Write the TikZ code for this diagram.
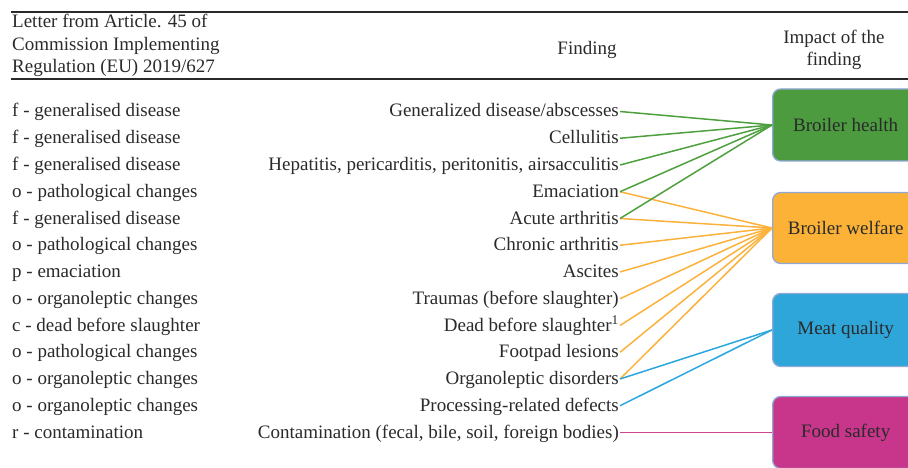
\documentclass[tikz,border=0pt]{standalone}
\usepackage{fontspec}
\setmainfont{Liberation Serif}
\definecolor{textgray}{HTML}{2A2A2A}
\definecolor{boxgreen}{HTML}{4C9B3F}
\definecolor{boxorange}{HTML}{FBB236}
\definecolor{boxblue}{HTML}{2EA6DA}
\definecolor{boxpink}{HTML}{C7368A}
\definecolor{boxedge}{HTML}{8FA8D6}
\definecolor{lgreen}{HTML}{4EA03F}
\definecolor{lorange}{HTML}{FBB23C}
\definecolor{lblue}{HTML}{2BA6DE}
\definecolor{lpink}{HTML}{D14590}
\begin{document}
\begin{tikzpicture}[x=1pt,y=-1pt,
  txt/.style={inner sep=0pt, font=\fontsize{19}{22}\selectfont, text=textgray},
  impact/.style={txt, draw=boxedge, line width=1.3pt, rounded corners=8pt, minimum width=146pt, minimum height=72pt, anchor=west},
  conn/.style={line width=1.5pt},
  rulethick/.style={line width=1.8pt, draw=textgray}]
\clip (0,0) rectangle (908,468);
\useasboundingbox (0,0) rectangle (908,468);
% rules
\coordinate (r1a) at (11,12); \coordinate (r1b) at (910,12);
\coordinate (r2a) at (11,79); \coordinate (r2b) at (910,79);
\draw[rulethick] (r1a) -- (r1b);
\draw[rulethick, line width=1.5pt] (r2a) -- (r2b);
% header
\node[txt, anchor=base west] (h1) at (12,28) {Letter from Article. 45 of};
\node[txt, anchor=base west] (h2) at (12,51) {Commission Implementing};
\node[txt, anchor=base west] (h3) at (12,73) {Regulation (EU) 2019/627};
\node[txt, anchor=base] (hf) at (587,55) {Finding};
\node[txt, anchor=base] (hi1) at (834,44) {Impact of the};
\node[txt, anchor=base] (hi2) at (834,66) {finding};
% left column
\foreach \i/\t in {1/{f - generalised disease},2/{f - generalised disease},3/{f - generalised disease},
  4/{o - pathological changes},5/{f - generalised disease},6/{o - pathological changes},
  7/{p - emaciation},8/{o - organoleptic changes},9/{c - dead before slaughter},
  10/{o - pathological changes},11/{o - organoleptic changes},12/{o - organoleptic changes},
  13/{r - contamination}}
  \node[txt, anchor=base west] (L\i) at (12,{117+26.75*(\i-1)}) {\t};
% findings
\foreach \i/\t in {1/{Generalized disease/abscesses},2/{Cellulitis},3/{Hepatitis, pericarditis, peritonitis, airsacculitis},
  4/{Emaciation},5/{Acute arthritis},6/{Chronic arthritis},7/{Ascites},8/{Traumas (before slaughter)},
  9/{Dead before slaughter\textsuperscript{1}},10/{Footpad lesions},11/{Organoleptic disorders},
  12/{Processing-related defects},13/{Contamination (fecal, bile, soil, foreign bodies)}}
  {\node[txt, anchor=base east] (F\i) at (619,{117+26.75*(\i-1)}) {\t};
   \coordinate (c\i) at (620,{111.5+26.75*(\i-1)});}
% impact boxes
\node[impact, fill=boxgreen] (health) at (772,125) {Broiler health};
\node[impact, fill=boxorange, minimum height=71pt] (welfare) at (772,228) {Broiler welfare};
\node[impact, fill=boxblue, minimum height=73pt] (meat) at (772,330) {Meat quality};
\node[impact, fill=boxpink] (food) at (772,432.5) {Food safety};
% connectors
\foreach \i in {4,5,6,7,8,9,10,11} \draw[conn, lorange] (c\i) -- (welfare.west);
\foreach \i in {1,2,3,4,5} \draw[conn, lgreen] (c\i) -- (health.west);
\foreach \i in {11,12} \draw[conn, lblue] (c\i) -- (meat.west);
\draw[conn, lpink] (c13) -- (food.west);
\end{tikzpicture}
\end{document}
